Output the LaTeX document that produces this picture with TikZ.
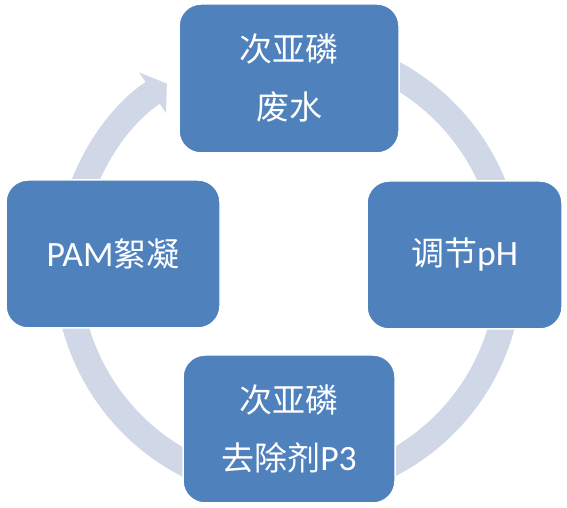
\documentclass[tikz,border=0pt]{standalone}
\usepackage{fontspec}
\setmainfont{Carlito}[Scale=1.08]
\newfontfamily\cjk{Noto Sans CJK SC}
\usepackage{xcolor}
\usepackage{tikz}
\usetikzlibrary{arrows.meta,positioning}
\definecolor{stageblue}{HTML}{4F81BD}
\definecolor{ringgray}{HTML}{D0D8E8}

\begin{document}
\begin{tikzpicture}[x=1pt, y=1pt, ring/.style = {draw=ringgray, line width=26pt, -{Triangle[width=48pt,length=17pt]}}]
		\tikzset{stage/.style={draw=white, line width=1.5pt, fill=stageblue, rounded corners=22pt, inner sep=0pt, align=center, text=white, minimum height=148pt, font=\fontsize{33}{58}\selectfont}}
		\useasboundingbox (0,0) rectangle (567,508);
		\coordinate (hub) at (288.5,240);

		\draw [ring] ([shift={(80:221)}]hub) arc [start angle=80, end angle=-236.6, radius=221];

		\node[stage, minimum width=220pt, minimum height=149pt] (waste) at (289,429.5) {{\cjk 次亚磷}\\{\cjk 废水}};
		\node[stage, minimum width=195pt] (ph) at (464.5,253) {{\cjk 调节}pH};
		\node[stage, minimum width=212pt] (remover) at (289,79) {{\cjk 次亚磷}\\{\cjk 去除剂}P3};
		\node[stage, minimum width=214pt] (pam) at (113,254) {PAM{\cjk 絮凝}};

	\end{tikzpicture}
\end{document}
